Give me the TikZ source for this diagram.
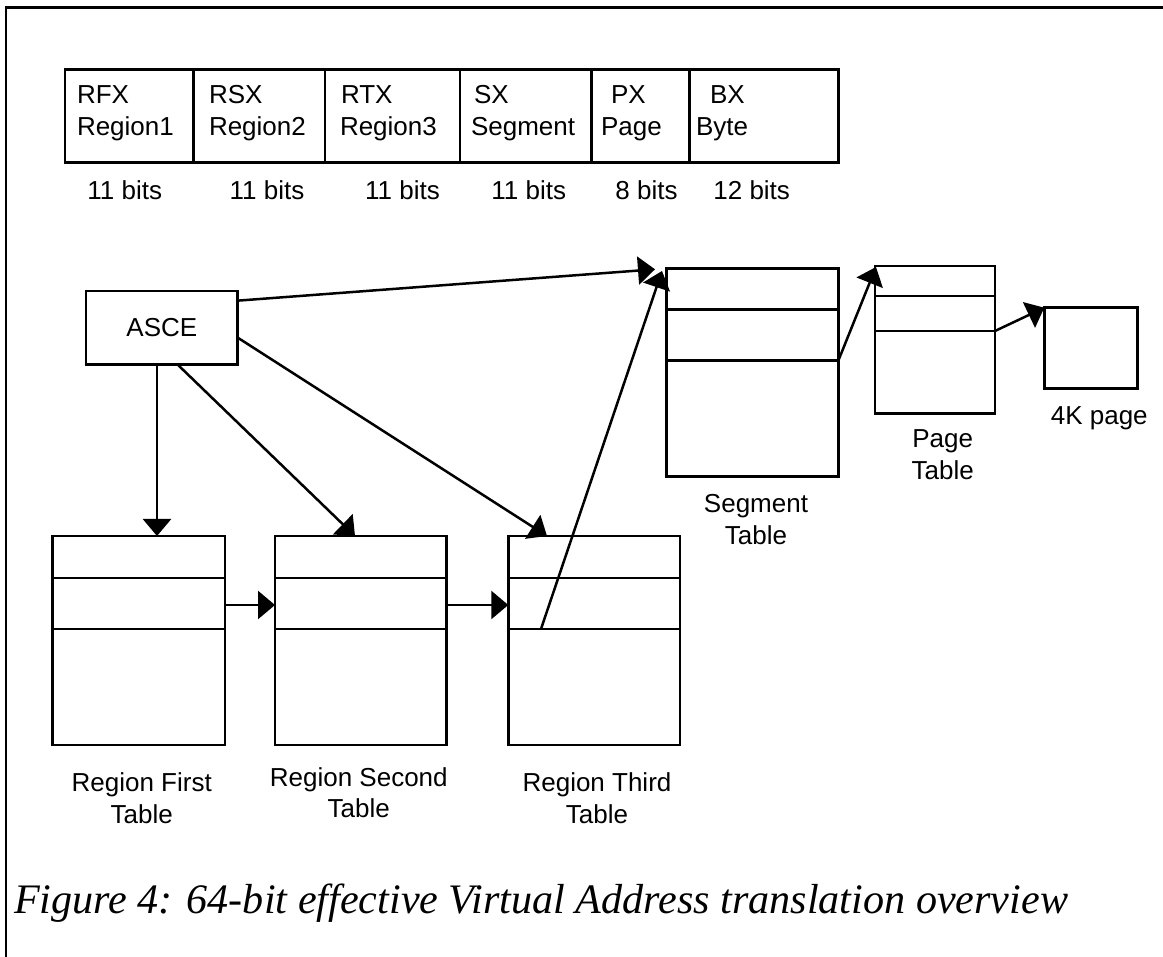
\documentclass[tikz,border=0pt]{standalone}
\usepackage{fontspec}
\usepackage{graphicx}
\setmainfont{Liberation Sans}
\newfontfamily\capfont{Liberation Serif}
\usetikzlibrary{arrows.meta,calc}
\tikzset{
  box/.style={draw, line width=2.5pt, inner sep=0pt, outer sep=0pt, anchor=north west},
  divline/.style={line width=2.5pt},
  arr/.style={line width=2.5pt, -{Triangle[length=17pt,width=28pt]}},
  lbl/.style={font=\fontsize{26}{31.7}\selectfont, inner sep=0pt, outer sep=0pt, align=center, anchor=base},
  ftxt/.style={font=\fontsize{26}{31.7}\selectfont, inner sep=0pt, outer sep=0pt, anchor=base west},
}
\begin{document}
\begin{tikzpicture}[x=1pt,y=-1pt]
\useasboundingbox (0,0) rectangle (1163,957);
% frame
\draw[line width=2.8pt] (6,957) -- (6,7.5) -- (1163,7.5);

% address format box
\node[box, minimum width=773.3pt, minimum height=93.4pt] (addr) at (65,69.3) {};
\foreach \o in {128.7,260,395,526.7,624.3}
  \draw[divline] ([xshift=\o]addr.north west) -- ([xshift=\o]addr.south west);
\node[ftxt] (f1a) at (77,104) {RFX};
\node[ftxt] (f1b) at (77,136) {Region1};
\node[ftxt] (f2a) at (209,104) {RSX};
\node[ftxt] (f2b) at (209,136) {Region2};
\node[ftxt] (f3a) at (341,104) {RTX};
\node[ftxt] (f3b) at (340,136) {Region3};
\node[ftxt] (f4a) at (474,104) {SX};
\node[ftxt] (f4b) at (471,136) {Segment};
\node[ftxt] (f5a) at (611,104) {PX};
\node[ftxt] (f5b) at (601,136) {Page};
\node[ftxt] (f6a) at (710,104) {BX};
\node[ftxt] (f6b) at (696,136) {Byte};
% bit widths
\node[lbl] (b1) at (124.7,199.3) {11 bits};
\node[lbl] (b2) at (267,199.3) {11 bits};
\node[lbl] (b3) at (402.5,199.3) {11 bits};
\node[lbl] (b4) at (528.7,199.3) {11 bits};
\node[lbl] (b5) at (646.5,199.3) {8 bits};
\node[lbl] (b6) at (751.7,199.3) {12 bits};

% ASCE
\node[box, minimum width=151.7pt, minimum height=73.3pt, font=\fontsize{26}{31.7}\selectfont] (asce) at (86,291) {ASCE};

% tables
\node[box, minimum width=172.3pt, minimum height=209pt] (rft) at (52.7,536) {};
\node[box, minimum width=171.7pt, minimum height=209pt] (rst) at (275,536) {};
\node[box, minimum width=171.7pt, minimum height=209pt] (rtt) at (508.3,536) {};
\node[box, minimum width=171.6pt, minimum height=208.4pt] (seg) at (666.7,268.3) {};
\node[box, minimum width=120pt, minimum height=147.3pt] (pgt) at (875,266) {};
\node[box, minimum width=93.4pt, minimum height=80.6pt] (k4) at (1044.3,307.7) {};
\foreach \n/\a/\b in {rft/42/93, rst/42/93, rtt/42/93, seg/41/92.4, pgt/30/65} {
  \draw[divline] ([yshift=-\a]\n.north west) -- ([yshift=-\a]\n.north east);
  \draw[divline] ([yshift=-\b]\n.north west) -- ([yshift=-\b]\n.north east);
}

% labels (anchor = baseline of the last line)
\node[lbl] (rftl) at (141.7,823.3) {Region First\\Table};
\node[lbl] (rstl) at (358.8,817.7) {Region Second\\Table};
\node[lbl] (rttl) at (597,823.3) {Region Third\\Table};
\node[lbl] (segl) at (756,544) {Segment\\Table};
\node[lbl] (pgtl) at (942.7,479.3) {Page\\Table};
\node[lbl] (k4l) at (1099.3,425) {4K page};

% connectors
\draw[arr] ([xshift=-4.85]asce.south) -- ([xshift=-4.85]asce.south |- rft.north);
\draw[arr] ([xshift=15.5]asce.south) -- ([xshift=-5.85]rst.north);
\draw[arr] ([yshift=-10]asce.east) -- ([xshift=-47.15]rtt.north);
\draw[arr] ([yshift=27]asce.east) -- ([xshift=-11.7,yshift=-1]seg.north west);
\draw[arr] ([xshift=32.7,yshift=-93]rtt.north west) -- ([xshift=-4.7,yshift=-2.7]seg.north west);
\draw[arr] ([yshift=35.5]rft.east) -- ([yshift=35.5]rst.west);
\draw[arr] ([yshift=35.5]rst.east) -- ([yshift=35.5]rtt.west);
\draw[arr] ([yshift=-92.4]seg.north east) -- ([xshift=1,yshift=-1]pgt.north west);
\draw[arr] ([yshift=-65]pgt.north east) -- (k4.north west);

% caption
\node[anchor=base west, inner sep=0pt, outer sep=0pt] (cap) at (14,913)
  {\resizebox{1054pt}{\height}{\capfont\itshape\fontsize{42}{50}\selectfont Figure 4: 64-bit effective Virtual Address translation overview}};
\end{tikzpicture}
\end{document}
